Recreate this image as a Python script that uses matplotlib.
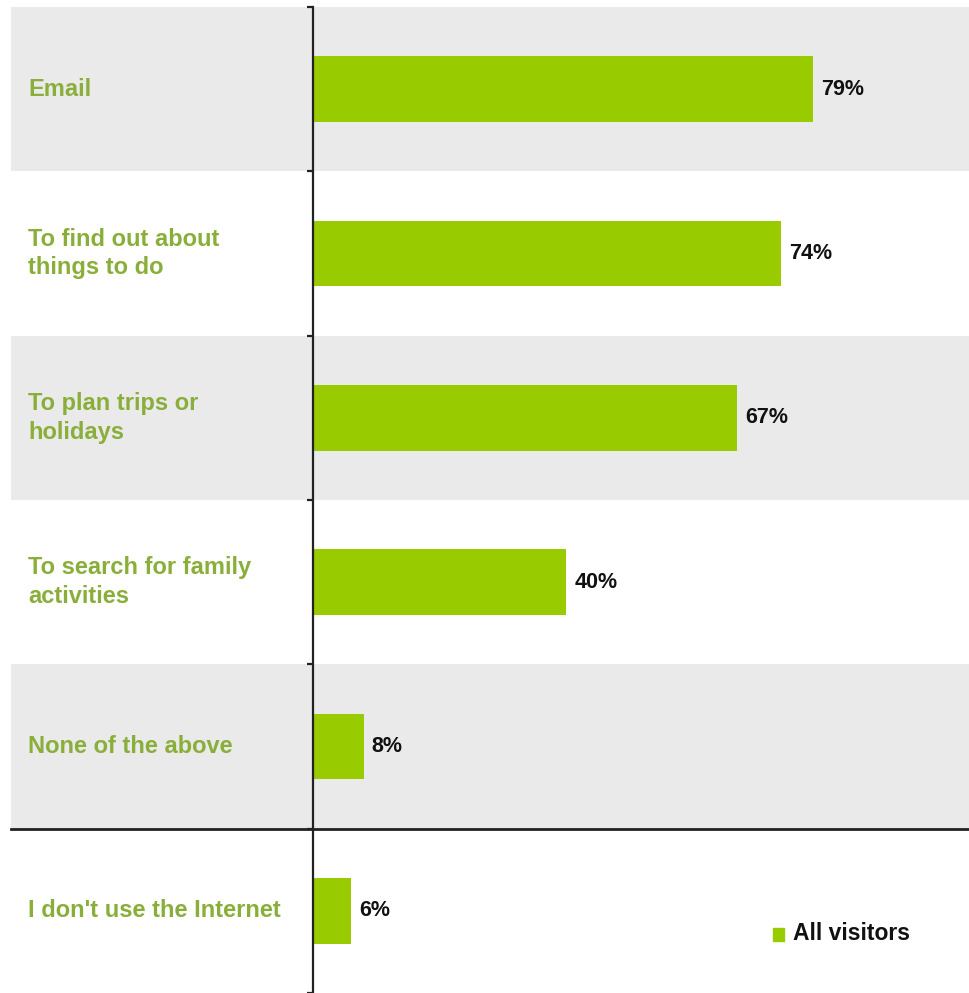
import matplotlib
matplotlib.use('Agg')
from matplotlib import pyplot as plt
from matplotlib import transforms
from matplotlib.patches import Rectangle

categories = ['Email', 'To find out about\nthings to do', 'To plan trips or\nholidays',
              'To search for family\nactivities', 'None of the above', "I don't use the Internet"]
values = [79, 74, 67, 40, 8, 6]
value_labels = ['79%', '74%', '67%', '40%', '8%', '6%']
series_name = 'All visitors'

BAR = '#99CC00'
LABEL = '#8AAE3A'
BAND = '#EAEAEA'

plt.rcParams['font.family'] = ['Liberation Sans', 'DejaVu Sans']

W, H = 969, 993
fig = plt.figure(figsize=(W / 100, H / 100), dpi=100)
left = 313 / W
ax = fig.add_axes([left, 0, 1 - left, (H - 7) / H])
ax.set_xlim(0, 656 / 6.33)
ax.set_ylim(len(categories) - 0.5, -0.5)

band_x0 = (11 - 313) / 656
for i in range(len(categories)):
    if i % 2 == 0:
        ax.axhspan(i - 0.5, i + 0.5, xmin=band_x0, xmax=1, color=BAND, lw=0,
                   clip_on=False, zorder=0)

ax.barh(range(len(values)), values, height=0.4, color=BAR, zorder=2)

for i, (v, t) in enumerate(zip(values, value_labels)):
    ax.annotate(t, (v, i), xytext=(8, 0), textcoords='offset pixels', ha='left',
                va='center', fontsize=15.5, fontweight='bold', color='#111111', zorder=3)

tr = transforms.blended_transform_factory(fig.transFigure, ax.transData)
for i, c in enumerate(categories):
    ax.text(28 / W, i, c, transform=tr, ha='left', va='center', fontsize=17,
            fontweight='bold', color=LABEL, linespacing=1.3)

ax.axhline(4.5, xmin=band_x0, xmax=1, color='#222222', lw=2, clip_on=False, zorder=4)

for s in ['top', 'right', 'bottom']:
    ax.spines[s].set_visible(False)
ax.spines['left'].set_color('#222222')
ax.spines['left'].set_linewidth(1.6)
ax.spines['left'].set_zorder(5)
ax.set_xticks([])
ax.set_yticks([])
ax.set_yticks([i - 0.5 for i in range(len(categories) + 1)], minor=True)
ax.tick_params(axis='y', which='minor', length=4, width=1.6, direction='out', color='#222222')

# legend
fig.patches.append(Rectangle((773 / W, 1 - 941 / H), 11 / W, 13 / H, transform=fig.transFigure,
                             color=BAR, figure=fig))
fig.text(793 / W, 1 - 934 / H, series_name, ha='left', va='center', fontsize=16.5,
         fontweight='bold', color='#111111')

fig.savefig('out.png', dpi=100)
